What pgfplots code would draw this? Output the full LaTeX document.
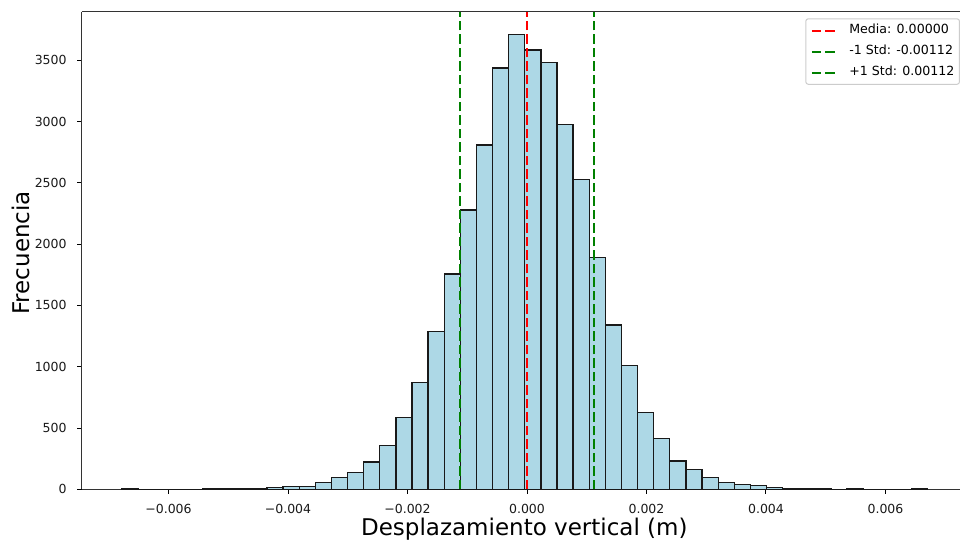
\documentclass[border=0pt]{standalone}
\usepackage{fontspec}
\setmainfont{DejaVu Sans}
\usepackage{pgfplots}
\pgfplotsset{compat=1.18}
\definecolor{lblue}{RGB}{173,216,230}
\definecolor{mgreen}{RGB}{0,128,0}
\definecolor{legframe}{RGB}{204,204,204}
\begin{document}
\begin{tikzpicture}
\useasboundingbox (-81.7bp,-51.7bp) rectangle (878.3bp,489.3bp);
\begin{axis}[
  at={(0,0)}, anchor=south west,
  scale only axis, width=878.3bp, height=477.6bp,
  xmin=-0.007453, xmax=0.007247, ymin=0, ymax=3896,
  axis y line*=left,
  scaled x ticks=false, scaled y ticks=false,
  xtick={-0.006,-0.004,-0.002,0,0.002,0.004,0.006},
  xticklabels={−0.006,−0.004,−0.002,0.000,0.002,0.004,0.006},
  ytick={0,500,1000,1500,2000,2500,3000,3500},
  yticklabels={0,500,1000,1500,2000,2500,3000,3500},
  xtick pos=bottom, ytick pos=left,
  tick align=outside, major tick length=4.4bp,
  tick style={line width=1bp, color=black},
  axis line style={line width=1.1bp, color=black!80},
  ticklabel style={font=\fontsize{12.5bp}{14bp}\selectfont, text=black!90},
  xticklabel style={anchor=base, inner sep=0pt, yshift=-19.7bp},
  yticklabel style={anchor=east, inner sep=0pt, xshift=-10.5bp},
  xlabel={Desplazamiento vertical (m)},
  ylabel={Frecuencia},
  label style={font=\fontsize{23bp}{27bp}\selectfont},
  xlabel style={at={(axis description cs:0.504,-0.0957)}, anchor=base, inner sep=0pt},
  ylabel style={at={(axis description cs:-0.0597,0.495)}, anchor=base, inner sep=0pt, rotate=0},
  legend cell align=left,
  legend image code/.code={\draw[#1] (0bp,0bp) -- (25bp,0bp);},
  legend style={at={(axis description cs:1,1)}, anchor=north east, yshift=-6.6bp,
    draw=legframe, line width=1bp, rounded corners=2.5bp, fill=white,
    font=\fontsize{12.6bp}{15bp}\selectfont,
    row sep=6.5bp, inner xsep=5bp, inner ysep=4.5bp,
    nodes={inner xsep=0pt, inner ysep=1bp, text height=9.5bp, text depth=3bp},
    /tikz/every even column/.append style={column sep=0bp},
    /tikz/every odd column/.append style={column sep=11.5bp}},
]
\addplot[ybar interval, fill=lblue, draw=black!90, line width=1.3bp, forget plot] table[x=x, y=y] {
x y
-0.006780 3
-0.006510 0
-0.006241 0
-0.005971 0
-0.005701 0
-0.005431 2
-0.005162 3
-0.004892 4
-0.004622 6
-0.004353 12
-0.004083 21
-0.003813 20
-0.003543 54
-0.003274 98
-0.003004 135
-0.002734 223
-0.002464 358
-0.002195 583
-0.001925 870
-0.001655 1289
-0.001386 1756
-0.001116 2278
-0.000846 2808
-0.000576 3437
-0.000307 3711
-0.000037 3583
0.000233 3480
0.000502 2977
0.000772 2529
0.001042 1889
0.001312 1340
0.001581 1008
0.001851 628
0.002121 416
0.002390 231
0.002660 163
0.002930 98
0.003200 54
0.003469 38
0.003739 30
0.004009 14
0.004279 5
0.004548 4
0.004818 3
0.005088 0
0.005357 3
0.005627 0
0.005897 0
0.006167 0
0.006436 3
0.006706 0
};
\addplot[red, line width=2bp, dash pattern=on 9.4bp off 4.1bp] coordinates {(0,0) (0,3896)};
\addlegendentry{Media: 0.00000}
\addplot[mgreen, line width=2bp, dash pattern=on 9.4bp off 4.1bp] coordinates {(-0.00112,0) (-0.00112,3896)};
\addlegendentry{-1 Std: -0.00112}
\addplot[mgreen, line width=2bp, dash pattern=on 9.4bp off 4.1bp] coordinates {(0.00112,0) (0.00112,3896)};
\addlegendentry{+1 Std: 0.00112}
\end{axis}
\end{tikzpicture}
\end{document}
